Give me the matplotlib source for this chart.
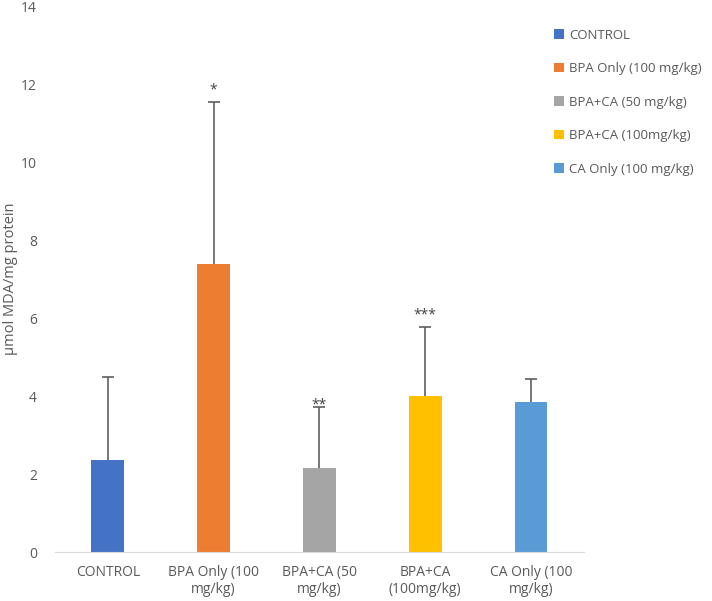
import numpy as np
import matplotlib
matplotlib.use('Agg')
import matplotlib.pyplot as plt

groups = ['CONTROL', 'BPA Only (100 mg/kg)', 'BPA+CA (50 mg/kg)',
          'BPA+CA (100mg/kg)', 'CA Only (100 mg/kg)']
tick_labels = ['CONTROL', 'BPA Only (100\nmg/kg)', 'BPA+CA (50\nmg/kg)',
               'BPA+CA\n(100mg/kg)', 'CA Only (100\nmg/kg)']
means = [2.35, 7.38, 2.15, 4.0, 3.85]
errs = [2.15, 4.16, 1.57, 1.77, 0.59]
stars = ['', '*', '**', '***', '']
colors = ['#4472C4', '#ED7D31', '#A5A5A5', '#FFC000', '#5B9BD5']

plt.rcParams['font.family'] = ['Open Sans', 'DejaVu Sans']
txt = '#595959'

fig = plt.figure(figsize=(7.12, 6.01), dpi=100)
ax = fig.add_axes([0.077, 0.0815, 0.743, 0.9085])

x = np.arange(len(groups))
for i in range(len(groups)):
    ax.bar(x[i], means[i], width=0.31, color=colors[i], label=groups[i], zorder=2)

# plus-only error bars (Excel style)
tops = np.array(means) + np.array(errs)
ax.vlines(x, means, tops, color='#5f5f5f', lw=1.2, zorder=3)
ax.plot(x, tops, ls='none', marker='_', ms=8, mew=1.2, color='#5f5f5f', zorder=3)

# significance marks
for i, s in enumerate(stars):
    if s:
        off = 0.05 if s == '**' else 0.3
        ax.text(x[i], tops[i] + off, s, ha='center', va='center', fontsize=10, color='#404040')

ax.set_xlim(-0.5, 4.5)
ax.set_ylim(0, 14)
ax.set_yticks(range(0, 15, 2))
ax.set_xticks(x)
ax.set_xticklabels(tick_labels, fontsize=10, color=txt, linespacing=1.25)
ax.tick_params(axis='y', labelsize=10, labelcolor=txt, length=0, pad=13)
ax.tick_params(axis='x', length=0, pad=9)
for sp in ['top', 'right', 'left']:
    ax.spines[sp].set_visible(False)
ax.spines['bottom'].set_color('#d9d9d9')
ax.set_ylabel('µmol MDA/mg protein', fontsize=10.5, color=txt)
ax.yaxis.set_label_coords(-0.07, 0.5)

leg = fig.legend(loc='upper left', bbox_to_anchor=(0.762, 0.972), frameon=False,
                 fontsize=9.5, handlelength=0.7, handleheight=0.7, handletextpad=0.4,
                 labelspacing=1.55)
for t in leg.get_texts():
    t.set_color(txt)

fig.savefig('out.png', dpi=100)
